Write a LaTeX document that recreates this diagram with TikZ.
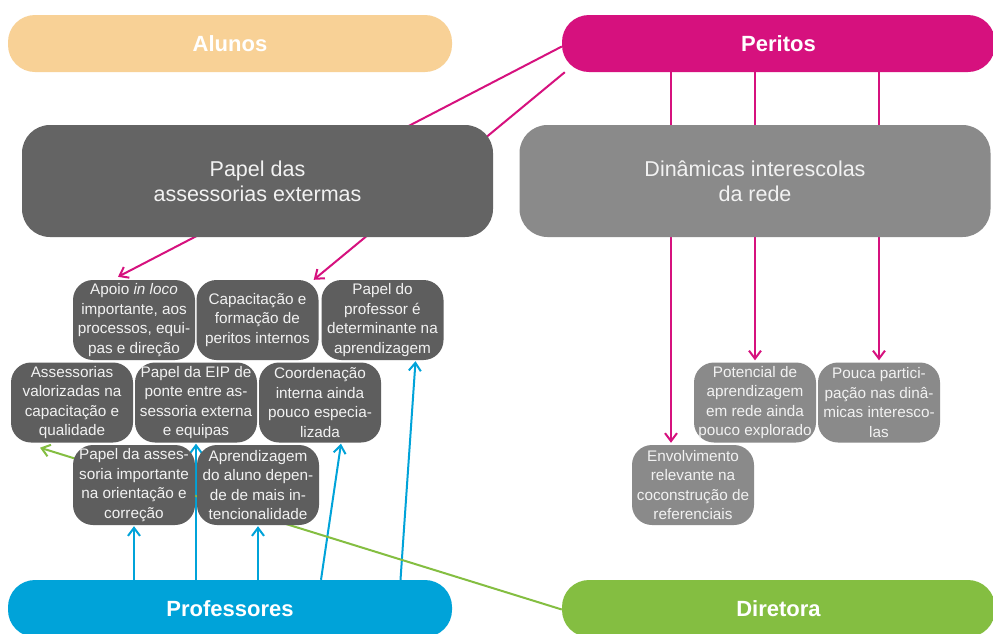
\documentclass[tikz,border=0pt]{standalone}
\usepackage{fontspec}
\setmainfont{Liberation Sans}
\usetikzlibrary{arrows.meta,backgrounds}

\definecolor{alunosC}{RGB}{248,209,150}
\definecolor{peritosC}{RGB}{214,17,126}
\definecolor{profC}{RGB}{0,163,217}
\definecolor{diretoraC}{RGB}{132,190,65}
\definecolor{darkbox}{RGB}{100,100,100}
\definecolor{smallbox}{RGB}{94,94,94}
\definecolor{lightbox}{RGB}{138,138,138}
\definecolor{boxtext}{RGB}{242,242,242}

\begin{document}
\begin{tikzpicture}[x=1pt,y=-1pt,
  pill/.style={rounded corners=27pt, minimum width=#1, minimum height=57pt,
    inner sep=0pt, text=white, font=\fontsize{22}{26}\selectfont\bfseries},
  bigbox/.style={fill=#1, rounded corners=28pt, minimum width=471pt,
    minimum height=112pt, inner sep=0pt, text=boxtext, align=center,
    font=\fontsize{21.5}{25}\selectfont},
  note/.style={fill=#1, rounded corners=20pt, minimum width=122pt,
    minimum height=80pt, inner sep=0pt, text=boxtext, align=center,
    font=\fontsize{15.3}{19.4}\selectfont},
  link/.style={line width=2pt, draw=#1},
  tip/.style={-{Straight Barb[length=8pt,width=12pt,line width=2pt]}}
]
\useasboundingbox (0,0) rectangle (993,633);
\begin{pgfonlayer}{background}
  \fill[white] (0,0) rectangle (993,633);
\end{pgfonlayer}

% actors
\node[pill=444pt, fill=alunosC] (alunos) at (230,43.5) {Alunos};
\node[pill=433pt, fill=peritosC] (peritos) at (778.5,43.5) {Peritos};
\node[pill=444pt, fill=profC] (prof) at (230,608.5) {Professores};
\node[pill=433pt, fill=diretoraC] (diretora) at (778.5,608.5) {Diretora};

% themes
\node[bigbox=darkbox] (assess) at (257.5,181) {Papel das\\assessorias extermas};
\node[bigbox=lightbox] (dinam) at (755,181) {Dinâmicas interescolas\\da rede};

% notes on external support
\node[note=smallbox] (apoio) at (134,320) {Apoio \textit{in loco}\\importante, aos\\processos, equi-\\pas e direção};
\node[note=smallbox] (capac) at (257.5,320) {Capacitação e\\formação de\\peritos internos};
\node[note=smallbox] (pprof) at (382.5,320) {Papel do\\professor é\\determinante na\\aprendizagem};
\node[note=smallbox] (assval) at (72,402.5) {Assessorias\\valorizadas na\\capacitação e\\qualidade};
\node[note=smallbox] (eip) at (196,402.5) {Papel da EIP de\\ponte entre as-\\sessoria externa\\e equipas};
\node[note=smallbox] (coord) at (320,402.5) {Coordenação\\interna ainda\\pouco especia-\\lizada};
\node[note=smallbox] (pda) at (134,485) {Papel da asses-\\soria importante\\na orientação e\\correção};
\node[note=smallbox] (apr) at (258,485) {Aprendizagem\\do aluno depen-\\de de mais in-\\tencionalidade};

% notes on network dynamics
\node[note=lightbox] (potenc) at (755,402.5) {Potencial de\\aprendizagem\\em rede ainda\\pouco explorado};
\node[note=lightbox] (pouca) at (879,402.5) {Pouca partici-\\pação nas dinâ-\\micas interesco-\\las};
\node[note=lightbox] (envolv) at (693,485) {Envolvimento\\relevante na\\coconstrução de\\referenciais};

% connectors run behind the boxes
\begin{pgfonlayer}{background}
  % Peritos
  \draw[link=peritosC, tip] ([yshift=-3pt]peritos.west) -- ([xshift=-16pt,yshift=3pt]apoio.north);
  \draw[link=peritosC, tip] ([xshift=3pt]peritos.south west) -- ([xshift=-5pt]capac.north east);
  \draw[link=peritosC, tip] ([xshift=-22pt]envolv.north |- peritos.south) -- ([xshift=-22pt,yshift=2pt]envolv.north);
  \draw[link=peritosC, tip] (potenc.north |- peritos.south) -- ([yshift=2pt]potenc.north);
  \draw[link=peritosC, tip] (pouca.north |- peritos.south) -- ([yshift=2pt]pouca.north);
  % Professores
  \draw[link=profC, tip] (pda.south |- prof.north) -- ([yshift=-1pt]pda.south);
  \draw[link=profC, tip] (eip.south |- prof.north) -- ([yshift=-1pt]eip.south);
  \draw[link=profC, tip] (apr.south |- prof.north) -- ([yshift=-1pt]apr.south);
  \draw[link=profC, tip] ([xshift=1pt]coord.south |- prof.north) -- ([xshift=21pt,yshift=-1pt]coord.south);
  \draw[link=profC, tip] ([xshift=18pt]pprof.south |- prof.north) -- ([xshift=33pt,yshift=-1pt]pprof.south);
  % Diretora
  \draw[link=diretoraC, tip] ([yshift=-1pt]diretora.west) -- ([xshift=-32pt,yshift=-5pt]assval.south);
\end{pgfonlayer}
\end{tikzpicture}
\end{document}
